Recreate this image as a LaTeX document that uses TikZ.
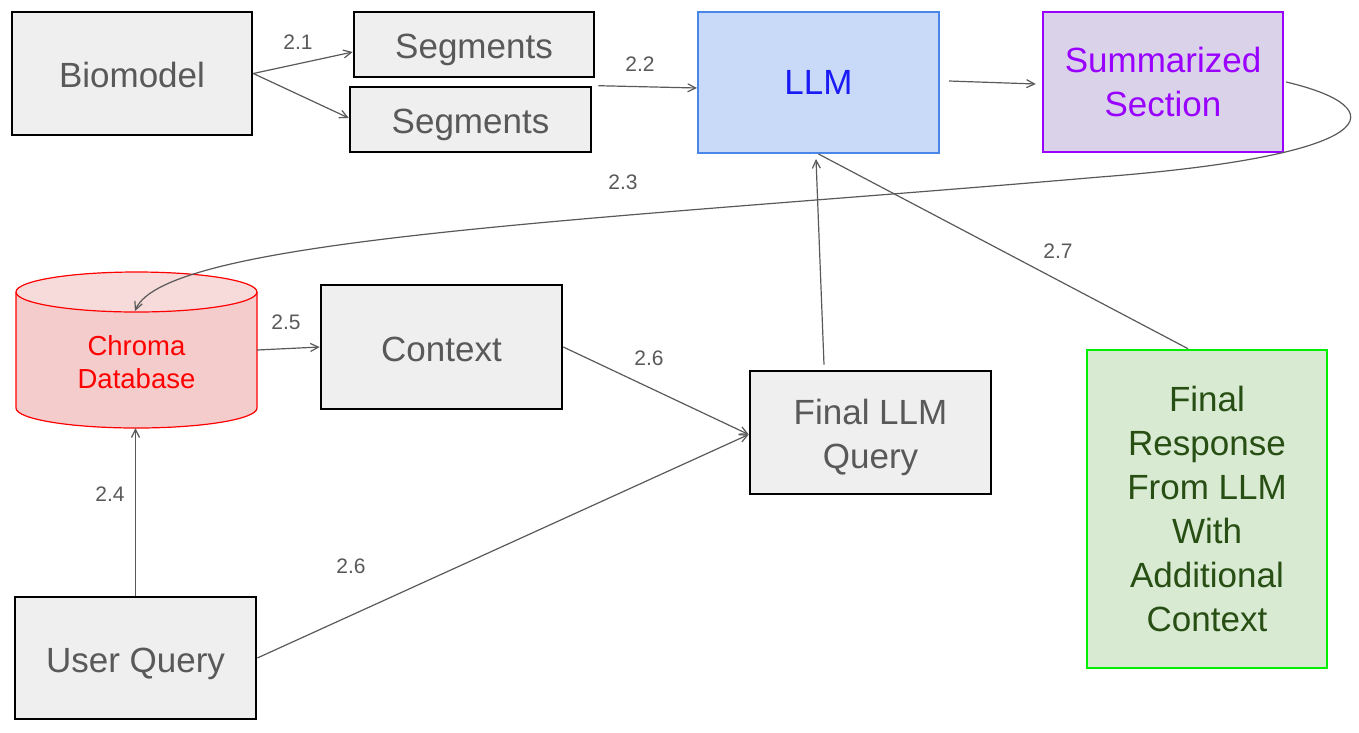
\documentclass[tikz,border=0pt]{standalone}
\usepackage{fontspec}
\setmainfont{Liberation Sans}
\usetikzlibrary{arrows.meta}
\definecolor{txtgray}{HTML}{595959}
\definecolor{boxgray}{HTML}{EFEFEF}
\definecolor{llmfill}{HTML}{C9DAF8}
\definecolor{llmborder}{HTML}{4A86E8}
\definecolor{llmtext}{HTML}{1A1AF5}
\definecolor{sumfill}{HTML}{D9D2E9}
\definecolor{sumborder}{HTML}{9900FF}
\definecolor{cylfill}{HTML}{F4CCCC}
\definecolor{cyltop}{HTML}{F7DADA}
\definecolor{respfill}{HTML}{D9EAD3}
\definecolor{respborder}{HTML}{00EE00}
\definecolor{resptext}{HTML}{274E13}
\definecolor{linegray}{HTML}{595959}
\tikzset{
  bigtext/.style={font=\fontsize{35}{44}\selectfont},
  graybox/.style={draw=black, line width=2.6pt, fill=boxgray, text=txtgray, bigtext, inner sep=0pt, align=center},
  oneline/.style={text height=28pt, text depth=0pt},
  lbl/.style={text=txtgray, font=\fontsize{21}{25}\selectfont, inner sep=0pt},
  conn/.style={draw=linegray, line width=1.2pt},
  arr/.style={conn, -{Straight Barb[length=8pt,width=8pt,line width=1.2pt]}},
}
\begin{document}
\begin{tikzpicture}[x=1pt,y=-1pt]
\useasboundingbox (0,0) rectangle (1359,732);
% boxes
\node[graybox, oneline, minimum width=240, minimum height=123] (bio) at (132,73.5) {Biomodel};
\node[graybox, oneline, minimum width=240, minimum height=65] (seg1) at (474,44.5) {Segments};
\node[graybox, oneline, minimum width=241, minimum height=65] (seg2) at (470.5,119.5) {Segments};
\node[draw=llmborder, line width=2pt, fill=llmfill, text=llmtext, bigtext, inner sep=0pt,
      minimum width=241, minimum height=141] (llm) at (818.5,82.5) {LLM};
\node[draw=sumborder, line width=2.4pt, fill=sumfill, text=sumborder, bigtext, inner sep=0pt,
      align=center, minimum width=240, minimum height=140] (sum) at (1163,82) {Summarized\\Section};
\node[graybox, oneline, minimum width=241, minimum height=124] (ctx) at (441.5,347) {Context};
\node[graybox, minimum width=241, minimum height=123] (flq) at (870.5,432.5) {};
\node[text=txtgray, bigtext, align=center, inner sep=0pt] (flqtxt) at (870.5,437) {Final LLM\\Query};
\node[draw=respborder, line width=2.6pt, fill=respfill, text=resptext, bigtext, inner sep=0pt,
      align=center, minimum width=240, minimum height=318] (resp) at (1207,509)
      {\fontsize{35}{43.2}\selectfont Final\\Response\\From LLM\\With\\Additional\\Context};
\node[graybox, oneline, minimum width=241, minimum height=122] (uq) at (135.5,658) {User Query};
% cylinder
\fill[cylfill] (16,292) -- (16,408) arc[start angle=180,end angle=0,x radius=120.5,y radius=20]
  -- (257,292) arc[start angle=0,end angle=-180,x radius=120.5,y radius=20] -- cycle;
\draw[red, line width=1.2pt, fill=cyltop] (136.5,292) ellipse[x radius=120.5, y radius=20];
\draw[red, line width=1.2pt] (16,292) -- (16,408) arc[start angle=180,end angle=0,x radius=120.5,y radius=20] -- (257,292);
\node[inner sep=0pt, minimum width=241, minimum height=156] (chroma) at (136.5,350) {};
\node[text=red, font=\fontsize{27.5}{33}\selectfont, align=center, inner sep=0pt] (chromatxt) at (136.5,362) {Chroma\\Database};
\coordinate (chromatop) at (135,311);
% connectors
\draw[arr] (bio.east) -- ([yshift=-7.5pt]seg1.west);
\draw[arr] (bio.east) -- ([yshift=1.5pt]seg2.west);
\draw[arr] ([xshift=6pt]seg2.north east) -- ([yshift=-5.5pt]llm.west);
\draw[arr] ([xshift=9pt,yshift=1.5pt]llm.east) -- ([xshift=-6pt,yshift=-2pt]sum.west);
\draw[arr] ([xshift=2pt]sum.east) .. controls (1396,108) and (1385,155) .. (1100,177)
  .. controls (600,220) and (165,238) .. (chromatop);
\draw[arr] (chroma.east) -- (ctx.west);
\coordinate (flqin) at ([yshift=-2pt]flq.west);
\draw[arr] (ctx.east) -- (flqin);
\draw[arr] (uq.east) -- (flqin);
\draw[arr] (uq.north) -- (uq.north |- chroma.south);
\draw[arr] ([xshift=-46.5pt,yshift=5pt]flq.north) -- ([xshift=-2.5pt,yshift=-5pt]llm.south);
\draw[conn] (llm.south) -- ([xshift=-19pt]resp.north);
% labels
\node[lbl] (l21) at (298,42) {2.1};
\node[lbl] (l22) at (640,64) {2.2};
\node[lbl] (l23) at (623,182) {2.3};
\node[lbl] (l24) at (110,494) {2.4};
\node[lbl] (l25) at (286,322) {2.5};
\node[lbl] (l26a) at (649,358) {2.6};
\node[lbl] (l26b) at (351,566) {2.6};
\node[lbl] (l27) at (1058,251) {2.7};
\end{tikzpicture}
\end{document}
